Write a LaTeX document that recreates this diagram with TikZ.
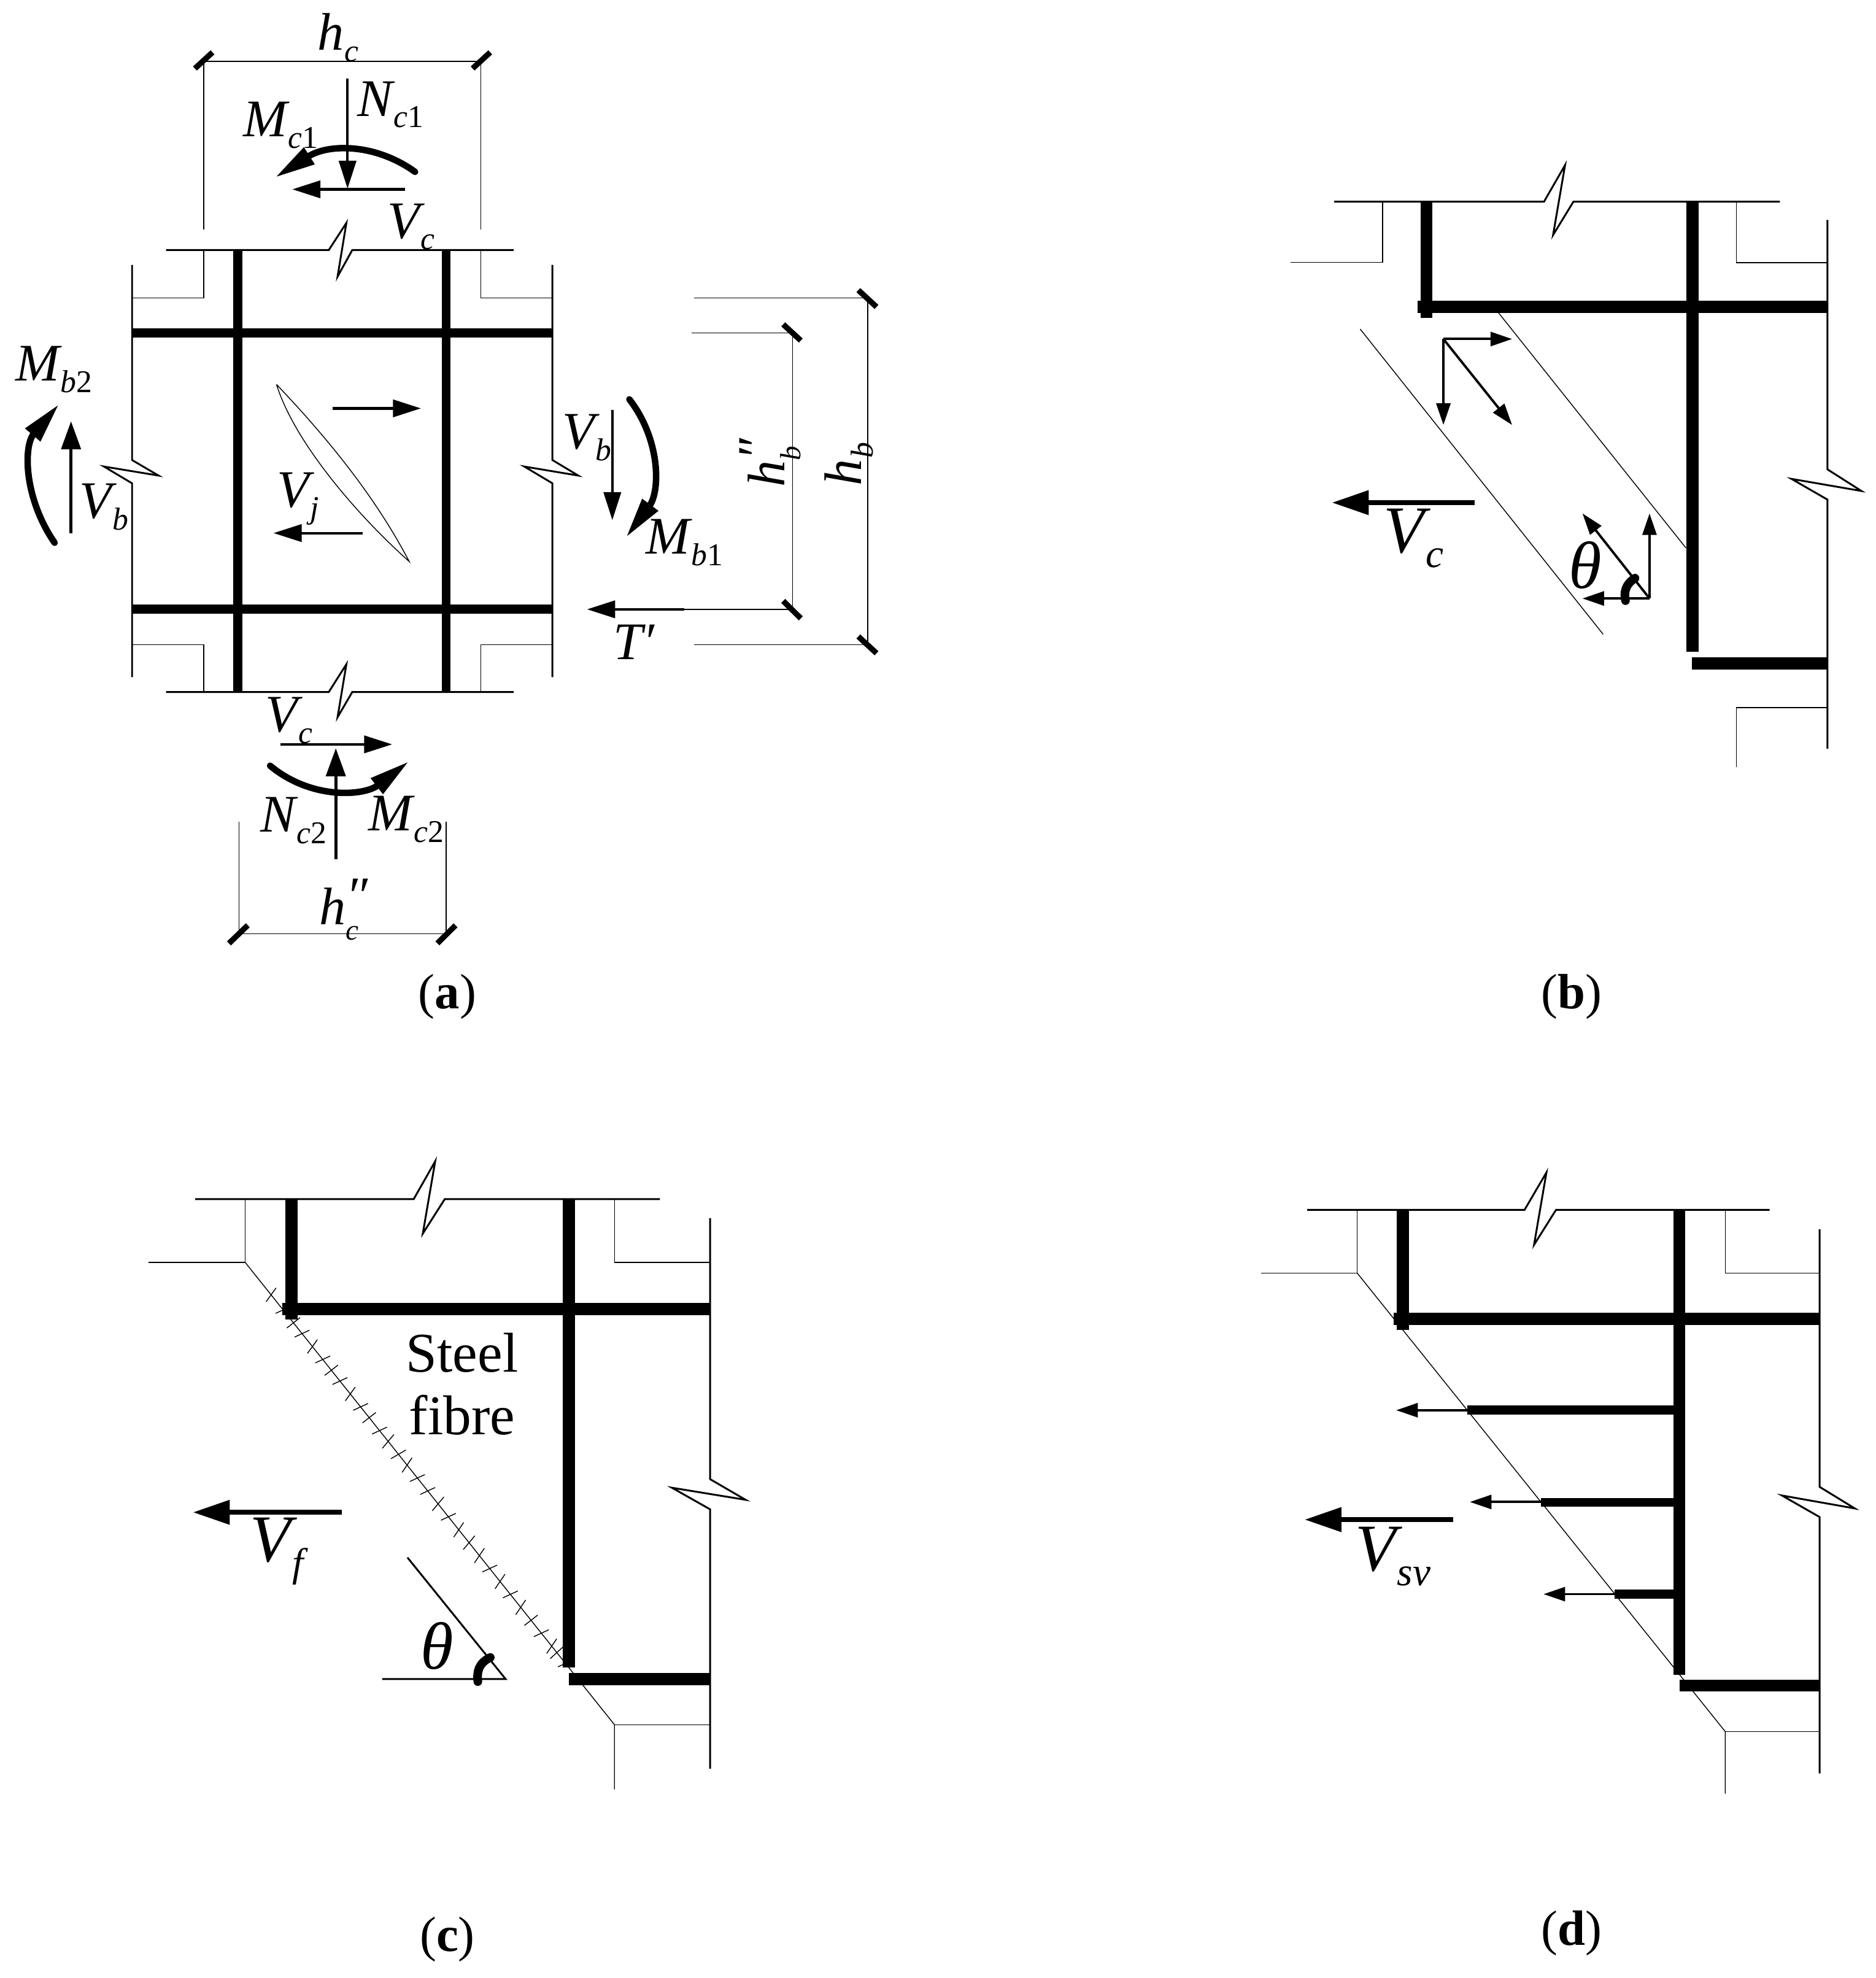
\documentclass[tikz,border=0pt]{standalone}
\usepackage{fontspec}
\usepackage{graphicx}
\setmainfont{Liberation Serif}
\usetikzlibrary{arrows.meta}
\newcommand{\Sub}[2]{{\itshape #1}\kern0.02em\raisebox{-0.22em}{\scalebox{0.6}{\itshape #2}}}
\newcommand{\SubPP}[2]{{\itshape #1}\rlap{\raisebox{-0.3em}{\scalebox{0.55}{\itshape #2}}}\raisebox{0.2em}{\itshape ″}}
\tikzset{
  thin line/.style={line width=0.4pt,black},
  med line/.style={line width=0.85pt,black,line join=miter},
  rebar/.style={line width=4.2pt,black},
  rebarb/.style={line width=5.6pt,black},
  tickm/.style={line width=2.6pt,black},
  force/.style={line width=1.1pt,black,-{Triangle[length=10pt,width=6.5pt]}},
  forcea/.style={line width=1.2pt,black,-{Triangle[length=13pt,width=8pt]}},
  forceb/.style={line width=1.4pt,black,-{Triangle[length=13pt,width=9pt]}},
  bigforce/.style={line width=2.2pt,black,-{Triangle[length=17pt,width=11pt]}},
  moment/.style={line width=3pt,black,line cap=round,-{Triangle[length=19pt,width=8.5pt]}},
  anglearc/.style={line width=4pt,black,line cap=round},
  lab/.style={inner sep=0pt,font=\fontsize{24.5}{25}\selectfont},
  labb/.style={inner sep=0pt,font=\fontsize{31}{32}\selectfont},
  figcap/.style={inner sep=0pt,font=\fontsize{23}{23}\selectfont}
}
\begin{document}
\begin{tikzpicture}
\useasboundingbox (0,0) rectangle (30.57,-32.23);
%% ---------- (a)
\begin{scope}[x=0.00956cm,y=-0.01053cm]
\draw[thin line] (347,355)--(347,95)--(819,95)--(819,355);
\draw[tickm] (332,106)--(362,81); \draw[tickm] (805,106)--(835,81);
\node[lab] (hc) at (576,58) {\Sub{h}{c}};
\draw[med line] (283,387)--(560,387)--(590,345)--(575,428)--(600,387)--(875,387);
\draw[med line] (283,1071)--(560,1071)--(590,1028)--(575,1110)--(600,1071)--(875,1071);
\draw[med line] (225,410)--(225,712)--(270,736)--(177,722)--(225,748)--(225,1048);
\draw[med line] (941,410)--(941,712)--(985,736)--(893,722)--(941,748)--(941,1048);
\draw[thin line] (226,461)--(347,461)--(347,387);
\draw[thin line] (819,387)--(819,461)--(941,461);
\draw[thin line] (226,998)--(347,998)--(347,1071);
\draw[thin line] (819,1071)--(819,998)--(941,998);
\draw[rebar] (405,387)--(405,1071);
\draw[rebar] (760,387)--(760,1071);
\draw[rebar] (225,515)--(941,515);
\draw[rebar] (225,943)--(941,943);
\draw[thin line] (471,595) .. controls (500,680) and (600,790) .. (697,869) .. controls (640,770) and (560,680) .. (471,595);
\draw[forcea] (567,632)--(717,632);
\draw[forcea] (618,825)--(466,825);
\node[lab] (vj) at (508,772) {\Sub{V}{j}};
\draw[moment] (707,266) .. controls (640,222) and (560,222) .. (468,275);
\draw[forcea] (592,122)--(592,292);
\draw[forcea] (690,293)--(498,293);
\node[lab] (mc1) at (478,194) {\Sub{M}{c\upshape 1}};
\node[lab] (nc1) at (665,162) {\Sub{N}{c\upshape 1}};
\node[lab] (vc1) at (700,351) {\Sub{V}{c}};
\node[lab] (vc2) at (492,1115) {\Sub{V}{c}};
\draw[forcea] (478,1152)--(668,1152);
\draw[forceb] (572,1330)--(572,1158);
\draw[moment] (460,1185) .. controls (530,1238) and (620,1232) .. (697,1178);
\node[lab] (nc2) at (500,1270) {\Sub{N}{c\upshape 2}};
\node[lab] (mc2) at (692,1268) {\Sub{M}{c\upshape 2}};
\draw[thin line] (407,1272)--(407,1445)--(760,1445)--(760,1272);
\draw[tickm] (390,1460)--(422,1432); \draw[tickm] (745,1460)--(776,1432);
\node[lab] (hcc) at (585,1408) {\SubPP{h}{c}};
\draw[moment] (1072,618) .. controls (1125,680) and (1125,760) .. (1066,832);
\node[lab] (mb1) at (1166,840) {\Sub{M}{b\upshape 1}};
\node[lab] (vb1) at (1000,677) {\Sub{V}{b}};
\draw[forcea] (1043,634)--(1043,805);
\node[lab] (mb2) at (92,572) {\Sub{M}{b\upshape 2}};
\draw[moment] (93,840) .. controls (40,770) and (40,690) .. (101,625);
\draw[forceb] (121,825)--(121,652);
\node[lab] (vb2) at (177,785) {\Sub{V}{b}};
\draw[forcea] (1166,943)--(1000,943);
\node[lab] (tp) at (1080,994) {\itshape T′};
\draw[thin line] (1178,515)--(1350,515)--(1350,943)--(1166,943);
\draw[tickm] (1334,502)--(1364,527); \draw[tickm] (1334,930)--(1364,957);
\draw[thin line] (1182,461)--(1478,461)--(1478,998)--(1182,998);
\draw[tickm] (1462,449)--(1493,475); \draw[tickm] (1462,985)--(1493,1011);
\node[lab,rotate=90] (hbb) at (1312,716) {\SubPP{h}{b}};
\node[lab,rotate=90] (hb) at (1446,718) {\Sub{h}{b}};
\end{scope}
\node[figcap] (capa) at (7.29,-16.24) {(\textbf{a})};
%% ---------- (b)
\begin{scope}[shift={(20,-2)},x=0.00674cm,y=-0.00703cm]
\draw[med line] (258,183)--(765,183)--(816,98)--(787,260)--(836,183)--(1335,183);
\draw[thin line] (152,323)--(375,323)--(375,183);
\draw[thin line] (1230,183)--(1230,324)--(1450,324);
\draw[med line] (1450,225)--(1450,803)--(1532,853)--(1363,825)--(1450,873)--(1450,1450);
\draw[thin line] (1230,1493)--(1230,1355)--(1450,1355);
\draw[rebarb] (481,183)--(481,452);
\draw[rebarb] (460,426)--(1450,426);
\draw[rebarb] (1124,183)--(1124,1226);
\draw[rebarb] (1123,1252)--(1450,1252);
\draw[thin line] (655,440)--(1108,985);
\draw[thin line] (321,478)--(908,1185);
\draw[force] (522,501)--(688,501);
\draw[force] (522,501)--(522,700);
\draw[force] (522,501)--(688,700);
\draw[bigforce] (598,880)--(253,880);
\node[labb] (vcb) at (450,962) {\Sub{V}{c}};
\draw[force] (1020,1102)--(1020,905);
\draw[force] (1020,1102)--(858,905);
\draw[force] (1020,1102)--(858,1102);
\node[labb] (thb) at (865,1025) {\itshape θ};
\draw[anglearc] (985,1055) .. controls (960,1070) and (958,1090) .. (962,1107);
\end{scope}
\node[figcap] (capb) at (25.61,-16.24) {(\textbf{b})};
%% ---------- (c)
\begin{scope}[shift={(2,-18.5)},x=0.00674cm,y=-0.00702cm]
\draw[med line] (175,148)--(703,148)--(755,60)--(725,228)--(778,148)--(1298,148);
\draw[thin line] (63,295)--(296,295)--(296,148);
\draw[thin line] (296,295)--(1188,1368)--(1188,1518);
\draw[thin line] (1188,1368)--(1419,1368);
\draw[thin line] (1188,148)--(1188,295)--(1419,295);
\draw[med line] (1419,192)--(1419,798)--(1505,846)--(1327,818)--(1419,868)--(1419,1470);
\foreach \t/\dx/\dy in {0.07/12/-16,0.105/18/-8,0.135/16/-12,0.16/18/-8,0.19/12/-16,0.22/18/-8,0.245/16/-12,0.27/18/-8,0.30/12/-16,0.33/18/-8,0.355/16/-12,0.385/18/-8,0.41/14/-16,0.44/18/-10,0.465/12/-17,0.495/18/-8,0.525/18/-8,0.555/14/-16,0.585/18/-8,0.615/12/-17,0.645/14/-16,0.675/12/-17,0.705/18/-8,0.735/12/-17,0.765/18/-8,0.795/12/-17,0.825/16/-12,0.855/18/-8,0.885/12/-17,0.90/16/-14,0.925/18/-8,0.96/18/-8}{
  \pgfmathsetmacro{\tt}{0.07+(\t-0.07)*0.9326}
  \pgfmathsetmacro{\px}{296+892*\tt}
  \pgfmathsetmacro{\py}{295+1073*\tt}
  \draw[thin line] (\px-\dx,\py-\dy)--(\px+\dx,\py+\dy);
}
\draw[rebarb] (408,148)--(408,428);
\draw[rebarb] (385,403)--(1419,403);
\draw[rebarb] (1078,148)--(1078,1235);
\draw[rebarb] (1078,1262)--(1419,1262);
\draw[med line] (688,980)--(925,1262)--(627,1262);
\node[labb] (thc) at (760,1185) {\itshape θ};
\draw[anglearc] (888,1212) .. controls (860,1225) and (855,1245) .. (858,1268);
\draw[bigforce] (530,875)--(170,875);
\node[labb] (vf) at (372,965) {\Sub{V}{f}};
\node[inner sep=0pt,font=\fontsize{26}{26}\selectfont] (st) at (820,505) {Steel};
\node[inner sep=0pt,font=\fontsize{26}{26}\selectfont] (fb) at (820,650) {fibre};
\end{scope}
\node[figcap] (capc) at (7.29,-31.6) {(\textbf{c})};
%% ---------- (d)
\begin{scope}[shift={(20,-18.5)},x=0.00674cm,y=-0.00702cm]
\draw[med line] (193,173)--(718,173)--(771,86)--(741,254)--(794,173)--(1310,173);
\draw[thin line] (82,320)--(314,320)--(314,173);
\draw[thin line] (314,320)--(1203,1384)--(1203,1528);
\draw[thin line] (1203,1384)--(1431,1384);
\draw[thin line] (1203,173)--(1203,320)--(1431,320);
\draw[med line] (1431,218)--(1431,816)--(1516,866)--(1340,836)--(1431,886)--(1431,1481);
\draw[rebarb] (424,173)--(424,452);
\draw[rebarb] (402,426)--(1431,426);
\draw[rebarb] (1092,173)--(1092,1252);
\draw[rebarb] (1092,1277)--(1431,1277);
\draw[rebar] (580,638)--(1092,638);
\draw[rebar] (758,852)--(1092,852);
\draw[rebar] (936,1065)--(1092,1065);
\draw[force] (580,638)--(408,638);
\draw[force] (758,851)--(586,851);
\draw[force] (936,1065)--(764,1065);
\draw[bigforce] (546,892)--(187,892);
\node[labb] (vsv) at (400,978) {\Sub{V}{sv}};
\end{scope}
\node[figcap] (capd) at (25.61,-31.5) {(\textbf{d})};
\end{tikzpicture}
\end{document}
